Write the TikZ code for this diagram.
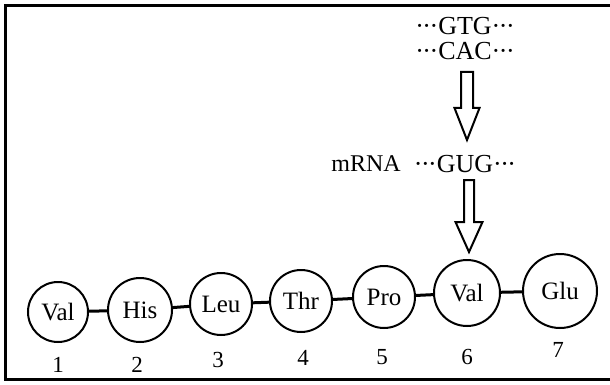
\documentclass[tikz,border=0pt]{standalone}
\usepackage{fontspec}
\setmainfont{Liberation Serif}
\newcommand\dts{·\kern-1.5pt·\kern-1.5pt·}
\begin{document}
\begin{tikzpicture}[x=1pt,y=-1pt,
  aa/.style={circle,draw,line width=2pt,inner sep=0pt,font=\fontsize{25}{25}\selectfont},
  num/.style={font=\fontsize{23}{23}\selectfont,inner sep=0pt},
  seq/.style={font=\fontsize{26}{26}\selectfont,inner sep=0pt},
  link/.style={line width=3pt},
  blockarrow/.style={draw,line width=2pt,line join=miter,fill=white},
  frame/.style={line width=3pt}]
\useasboundingbox (0,0) rectangle (610,385);
\draw[frame] (620,6) -- (5,6) -- (5,379) -- (620,379);
% amino acids
\node[aa,minimum size=60pt] (c1) at (58,312) {Val};
\node[aa,minimum size=64pt] (c2) at (140,310) {His};
\node[aa,minimum size=62pt] (c3) at (221,304) {Leu};
\node[aa,minimum size=62pt] (c4) at (301,301) {Thr};
\node[aa,minimum size=62pt] (c5) at (384,297) {Pro};
\node[aa,minimum size=66pt] (c6) at (467,293) {Val};
\node[aa,minimum size=74pt] (c7) at (560,291) {Glu};
\draw[link] (c1) -- (c2);
\draw[link] (c2) -- (c3);
\draw[link] (c3) -- (c4);
\draw[link] (c4) -- (c5);
\draw[link] (c5) -- (c6);
\draw[link] (c6) -- (c7);
% numbers
\node[num] (n1) at (58,365) {1};
\node[num] (n2) at (137,365) {2};
\node[num] (n3) at (218,360) {3};
\node[num] (n4) at (303,358) {4};
\node[num] (n5) at (382,357) {5};
\node[num] (n6) at (467,357) {6};
\node[num] (n7) at (558,350) {7};
% sequences
\node[seq] (gtg) at (465,26) {\dts GTG\dts};
\node[seq] (cac) at (465,51) {\dts CAC\dts};
\node[seq] (gug) at (465,164) {\dts GUG\dts};
\node[font=\fontsize{24}{24}\selectfont,inner sep=0pt] (mrna) at (366,164) {mRNA};
% block arrows
\coordinate (a1) at (467,72);
\coordinate (a2) at (469,180);
\draw[blockarrow] (a1) ++(-6,0) -- ++(0,36) -- ++(-6.5,0) -- ++(12.5,32) -- ++(12.5,-32) -- ++(-6.5,0) -- ++(0,-36) -- cycle;
\draw[blockarrow] (a2) ++(-5,0) -- ++(0,42) -- ++(-8.5,0) -- ++(13.5,30) -- ++(13.5,-30) -- ++(-8.5,0) -- ++(0,-42) -- cycle;
\end{tikzpicture}
\end{document}
